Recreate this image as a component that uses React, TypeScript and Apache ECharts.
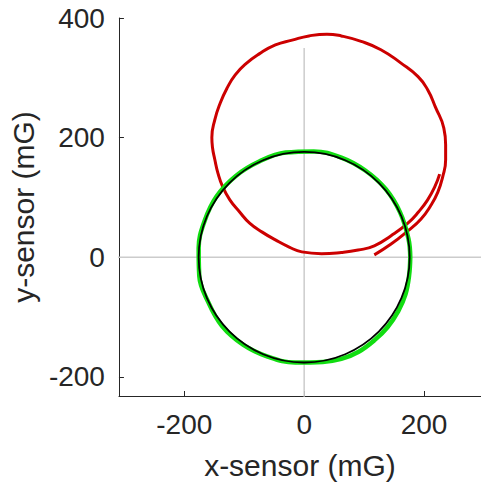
import React, { useEffect, useRef } from "react";
import * as echarts from "echarts";

// x-ticks / y-ticks
const xTicks = [-200, 0, 200];
const yTicks = [-200, 0, 200, 400];

// Reference lines through the origin
const vLine = [[0, -240], [0, 350]];
const hLine = [[-350, 0], [350, 0]];

// Raw (uncalibrated) magnetometer readings, red
const rawData: [number, number][] = [
  [117, 4], [145, 22], [173, 44], [195, 64], [211, 86], [223, 109], [231, 134],
  [236, 163], [236, 188], [233, 216], [219, 251], [206, 280], [190, 302],
  [161, 325], [128, 347], [95, 361], [62, 370], [38, 373], [8, 370], [-20, 363],
  [-48, 355], [-75, 340], [-98, 323], [-115, 305], [-128, 284], [-140, 258],
  [-149, 230], [-154, 200], [-153, 184], [-149, 163], [-144, 141], [-136, 118], [-124, 96],
  [-108, 76], [-91, 57], [-70, 42], [-48, 29], [-25, 17], [-4, 9], [29, 6],
  [62, 8], [90, 12], [117, 19], [145, 36], [173, 57], [191, 76], [206, 96],
  [218, 118], [226, 139],
];

// Calibrated readings, green
const calData: [number, number][] = [
  [177, 0], [174, 31], [160, 75], [136, 114], [102, 145], [61, 167], [16, 177],
  [-31, 175], [-75, 160], [-114, 136], [-146, 102], [-166, 61], [-176, 15],
  [-175, -31], [-160, -75], [-137, -115], [-102, -146], [-61, -166], [-15, -176],
  [31, -175], [62, -170], [91, -158], [117, -139], [139, -117], [157, -90],
  [169, -62], [175, -31], [177, 0],
];

// Fitted circle: centre x, centre y, radius
const fitCircle = [[0, 0, 176]];

const FONT = "'Liberation Sans', Arial, Helvetica, sans-serif";
const INK = "#262626";

export default function App() {
  const ref = useRef<HTMLDivElement>(null);
  useEffect(() => {
    if (!ref.current) return;
    const chart = echarts.init(ref.current, null, { renderer: "svg" });
    chart.setOption({
      animation: false,
      backgroundColor: "#ffffff",
      grid: { left: 116, right: 0, top: 18, bottom: 92, containLabel: false },
      xAxis: {
        type: "value",
        min: -309,
        max: 295,
        name: "x-sensor (mG)",
        nameLocation: "middle",
        nameGap: 54,
        nameTextStyle: { fontFamily: FONT, fontSize: 30, color: INK },
        axisLine: { show: true, onZero: false, lineStyle: { color: INK, width: 1 } },
        axisTick: { show: true, inside: true, length: 5, customValues: xTicks, lineStyle: { color: INK } },
        axisLabel: { customValues: xTicks, fontFamily: FONT, fontSize: 28, color: INK, margin: 14 },
        splitLine: { show: false },
      },
      yAxis: {
        type: "value",
        min: -232,
        max: 400,
        name: "y-sensor (mG)",
        nameLocation: "middle",
        nameGap: 72,
        nameTextStyle: { fontFamily: FONT, fontSize: 30, color: INK },
        axisLine: { show: true, onZero: false, lineStyle: { color: INK, width: 1 } },
        axisTick: { show: true, inside: true, length: 5, customValues: yTicks, lineStyle: { color: INK } },
        axisLabel: { customValues: yTicks, fontFamily: FONT, fontSize: 28, color: INK, margin: 14 },
        splitLine: { show: false },
      },
      series: [
        {
          type: "line", data: vLine, showSymbol: false, silent: true, clip: true,
          lineStyle: { color: "#cccccc", width: 1.5 }, z: 1,
        },
        {
          type: "line", data: hLine, showSymbol: false, silent: true, clip: true,
          lineStyle: { color: "#cccccc", width: 1.5 }, z: 1,
        },
        {
          type: "line", data: rawData, showSymbol: false, smooth: 0.5, clip: true,
          lineStyle: { color: "#cc0000", width: 3 }, z: 2,
        },
        {
          type: "line", data: calData, showSymbol: false, smooth: 0.4, clip: true,
          lineStyle: { color: "#11dd11", width: 4.5 }, z: 3,
        },
        {
          type: "custom",
          data: fitCircle,
          z: 4,
          renderItem: (params: any, api: any) => {
            const c = api.coord([api.value(0), api.value(1)]);
            const s = api.size([api.value(2), api.value(2)]);
            return {
              type: "ellipse",
              shape: { cx: c[0], cy: c[1], rx: s[0], ry: s[1] },
              style: { fill: "none", stroke: "#000000", lineWidth: 1.8 },
            };
          },
        },
      ],
    });
    return () => chart.dispose();
  }, []);
  return (
    <div
      ref={ref}
      style={{ position: "fixed", left: 0, top: 0, width: 481, height: 488 }}
    />
  );
}
